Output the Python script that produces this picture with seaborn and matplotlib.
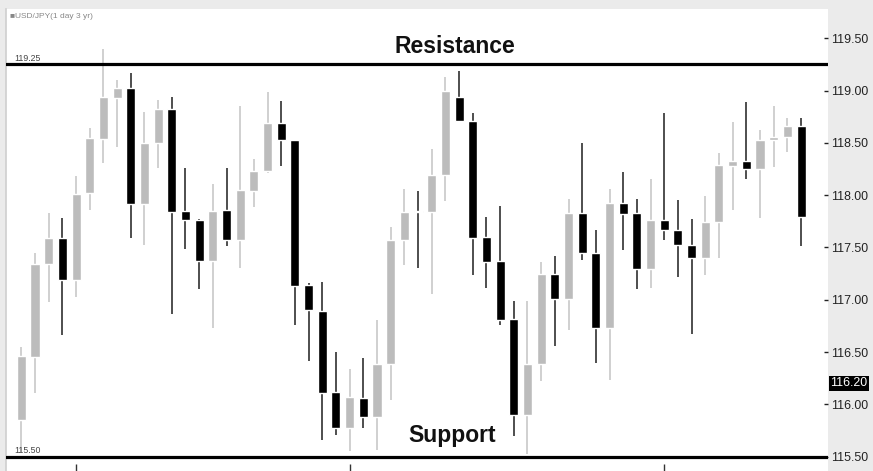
import numpy as np
import pandas as pd
import matplotlib
matplotlib.use("Agg")
import matplotlib.pyplot as plt
import seaborn as sns

# daily USD/JPY candles
opens = [115.85, 116.45, 117.34, 117.59, 117.19, 118.02, 118.54, 118.93, 119.02, 117.92,
         118.50, 118.82, 117.85, 117.76, 117.37, 117.86, 117.57, 118.04, 118.23, 118.69,
         118.53, 117.14, 116.89, 116.12, 115.77, 116.06, 115.88, 116.39, 117.57, 117.845,
         117.84, 118.19, 118.94, 118.71, 117.60, 117.37, 116.82, 115.90, 116.39, 117.25,
         117.01, 117.83, 117.45, 116.73, 117.93, 117.83, 117.29, 117.76, 117.67, 117.52,
         117.40, 117.74, 118.28, 118.33, 118.25, 118.53, 118.56, 118.66]
highs = [116.55, 117.45, 117.83, 117.78, 118.18, 118.64, 119.40, 119.10, 119.17, 118.80,
         118.91, 118.94, 118.26, 117.77, 118.11, 118.26, 118.85, 118.35, 118.99, 118.90,
         118.53, 117.16, 117.17, 116.50, 116.34, 116.44, 116.81, 117.70, 118.06, 118.04,
         118.44, 119.13, 119.19, 118.79, 117.79, 117.90, 116.99, 116.99, 117.36, 117.42,
         117.96, 118.50, 117.67, 118.06, 118.22, 117.96, 118.15, 118.79, 117.95, 117.77,
         117.99, 118.40, 118.70, 118.89, 118.62, 118.85, 118.74, 118.74]
lows = [115.54, 116.11, 116.98, 116.66, 117.03, 117.86, 118.31, 118.46, 117.59, 117.52,
        118.26, 116.86, 117.49, 117.10, 116.73, 117.51, 117.30, 117.89, 118.21, 118.28,
        116.76, 116.41, 115.66, 115.71, 115.55, 115.77, 115.56, 116.04, 117.33, 117.30,
        117.06, 117.94, 118.70, 117.24, 117.11, 116.76, 115.70, 115.53, 116.22, 116.56,
        116.71, 117.38, 116.40, 116.23, 117.48, 117.10, 117.11, 117.57, 117.22, 116.67,
        117.24, 117.40, 117.86, 118.15, 117.78, 118.27, 118.41, 117.51]
closes = [116.46, 117.34, 117.59, 117.19, 118.01, 118.55, 118.94, 119.02, 117.92, 118.50,
          118.82, 117.84, 117.76, 117.37, 117.85, 117.57, 118.05, 118.23, 118.69, 118.53,
          117.13, 116.90, 116.11, 115.77, 116.07, 115.88, 116.39, 117.57, 117.84, 117.835,
          118.19, 119.00, 118.71, 117.59, 117.36, 116.81, 115.90, 116.39, 117.25, 117.01,
          117.83, 117.45, 116.73, 117.93, 117.82, 117.29, 117.76, 117.67, 117.52, 117.40,
          117.74, 118.29, 118.33, 118.25, 118.53, 118.56, 118.66, 117.79]

resistance = 119.25
support = 115.50
last_price = 116.20
month_ticks = [4, 24, 47]
price_ticks = [115.5, 116.0, 116.5, 117.0, 117.5, 118.0, 118.5, 119.0, 119.5]

sns.set_theme(style="white")
plt.rcParams['font.family'] = ['Liberation Sans', 'DejaVu Sans']

df = pd.DataFrame({"open": opens, "high": highs, "low": lows, "close": closes})
df["x"] = np.arange(len(df))
df["up"] = df["close"] > df["open"]
up = df[df["up"]]
dn = df[~df["up"]]

fig = plt.figure(figsize=(8.73, 4.71), dpi=100, facecolor='#ebebeb')
ax = fig.add_axes([6/873, 0, (828-6)/873, (471-9)/471])
ax.set_facecolor('white')

# wicks
ax.vlines(up["x"], up["low"], up["high"], color='#cdcdcd', lw=1.3, zorder=2)
ax.vlines(dn["x"], dn["low"], dn["high"], color='#404040', lw=1.3, zorder=2)
# bodies
ax.bar(up["x"], up["close"] - up["open"], bottom=up["open"], width=0.66,
       color='#bcbcbc', zorder=3)
ax.bar(dn["x"], (dn["open"] - dn["close"]).clip(lower=0.012), bottom=dn["close"],
       width=0.66, color='black', zorder=3)

ax.axhline(resistance, color='black', lw=2.3, zorder=4)
ax.axhline(support, color='black', lw=2.3, zorder=4)

ax.set_xlim(-1.12, 58.97)
ax.set_ylim(115.363, 119.78)

ax.text(31.7, 119.42, "Resistance", ha='center', va='center', fontsize=16.5,
        fontweight='bold', color='#111111')
ax.text(31.5, 115.70, "Support", ha='center', va='center', fontsize=16.5,
        fontweight='bold', color='#111111')
ax.text(-0.55, resistance + 0.015, "119.25", fontsize=6.3, color='#444444', va='bottom')
ax.text(-0.55, support + 0.015, "115.50", fontsize=6.3, color='#444444', va='bottom')
fig.text(10/873, 1 - 16/471, "\u25a0USD/JPY(1 day 3 yr)", fontsize=6,
         color='#888888', va='center')

ax.yaxis.tick_right()
ax.set_yticks(price_ticks)
ax.set_yticklabels([f"{v:.2f}" for v in price_ticks])
ax.tick_params(axis='y', right=True, left=False, direction='in', length=3, width=1,
               pad=2, labelsize=8.9, colors='#222222')
ax.set_xticks(month_ticks)
ax.tick_params(axis='x', bottom=True, direction='in', length=5, width=1,
               color='#333333', labelbottom=False)

ax.text(1.003, last_price, "116.20", transform=ax.get_yaxis_transform(),
        ha='left', va='center', fontsize=8.9, color='white',
        bbox=dict(boxstyle='square,pad=0.12', fc='black', ec='none'))

for s in ['top', 'right', 'bottom']:
    ax.spines[s].set_visible(False)
ax.spines['left'].set_color('#d0d0d0')

fig.savefig("out.png", dpi=100, facecolor=fig.get_facecolor())
